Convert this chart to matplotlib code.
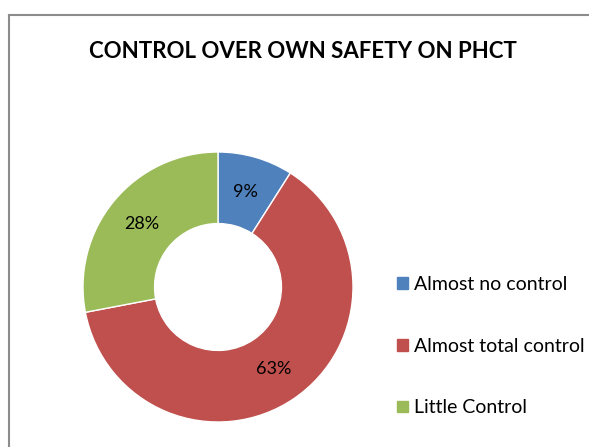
import matplotlib
matplotlib.use("Agg")
import matplotlib.pyplot as plt
from matplotlib.patches import Patch
from matplotlib.lines import Line2D

categories = ["Almost no control", "Almost total control", "Little Control"]
values = [9, 63, 28]
colors = ["#4F81BD", "#C0504D", "#9BBB59"]
title = "CONTROL OVER OWN SAFETY ON PHCT"

W, H = 589, 447
fig = plt.figure(figsize=(W / 100, H / 100), dpi=100)
plt.rcParams['font.family'] = ['Lato', 'DejaVu Sans']

# border
fig.add_artist(Line2D([9 / W, 9 / W], [0, 1 - 14.5 / H], transform=fig.transFigure,
                      color="#8c8c8c", lw=1.5))
fig.add_artist(Line2D([9 / W, 1], [1 - 14.5 / H, 1 - 14.5 / H], transform=fig.transFigure,
                      color="#8c8c8c", lw=1.5))

cx, cy, r = 218, 287, 135
ax = fig.add_axes([(cx - r) / W, (H - cy - r) / H, 2 * r / W, 2 * r / H])

wedges, texts = ax.pie(values, colors=colors, startangle=90, counterclock=False,
                       radius=1, wedgeprops=dict(width=0.53, edgecolor="white", linewidth=1),
                       labels=[f"{v}%" for v in values], labeldistance=0.735,
                       textprops=dict(fontsize=13, color="black", ha="center", va="center"))
for t in texts:
    t.set_ha("center")
    t.set_va("center")
ax.set_xlim(-1, 1)
ax.set_ylim(-1, 1)
ax.axis("off")

fig.text(303 / W, 1 - 52 / H, title, ha="center", va="center", fontsize=16,
         fontweight="bold", color="black")

handles = [Patch(facecolor=c, edgecolor=c) for c in colors]
fig.legend(handles, categories, loc="upper left", bbox_to_anchor=(397 / W, 1 - 276 / H),
           frameon=False, fontsize=14, handlelength=0.55, handleheight=0.55,
           handletextpad=0.3, labelspacing=2.3, borderaxespad=0, borderpad=0)

fig.savefig("out.png", dpi=100)
